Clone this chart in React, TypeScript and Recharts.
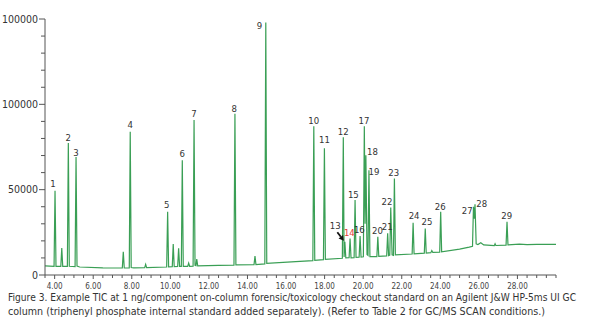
import React from 'react';
import { ComposedChart, Line, Scatter, XAxis, YAxis } from 'recharts';

// TIC trace: [retention time (min), abundance]
const TRACE: [number, number][] = [
  [3.5, 5300],
  [3.97, 5000], [4.02, 49300], [4.07, 5000],
  [4.32, 5000], [4.37, 15800], [4.42, 5000],
  [4.66, 5000], [4.71, 77400], [4.76, 5100],
  [5.06, 4900], [5.11, 69200], [5.16, 5200], [5.3, 4700],
  [6.5, 4200],
  [7.51, 4100], [7.56, 13600], [7.61, 4100],
  [7.87, 4200], [7.92, 84000], [7.97, 4400], [8.1, 4200],
  [8.67, 4300], [8.72, 6200], [8.77, 4300],
  [9.81, 4700], [9.86, 37000], [9.91, 4800],
  [10.1, 4900], [10.15, 18100], [10.2, 4900],
  [10.38, 5000], [10.43, 15600], [10.48, 5000],
  [10.57, 5000], [10.62, 67300], [10.67, 5100],
  [10.9, 5100], [10.95, 7000], [11.0, 5100],
  [11.18, 5200], [11.23, 90800], [11.28, 5600],
  [11.33, 5400], [11.37, 9400], [11.42, 5300],
  [12.5, 5600],
  [13.3, 5700], [13.35, 94500], [13.4, 5900],
  [14.34, 6100], [14.39, 11100], [14.44, 6100],
  [14.9, 6500], [14.95, 148000], [15.0, 6800],
  [16.5, 7800],
  [17.39, 8400], [17.44, 87100], [17.49, 8600],
  [17.94, 9000], [17.99, 74300], [18.04, 9200],
  [18.92, 9800], [18.97, 80700], [19.01, 10500], [19.05, 19500], [19.1, 10000],
  [19.27, 10100], [19.32, 21400], [19.37, 10100],
  [19.53, 10200], [19.58, 43900], [19.63, 10300],
  [19.79, 10400], [19.84, 22800], [19.89, 10500],
  [20.01, 10700], [20.06, 87100], [20.1, 30000], [20.14, 70200], [20.2, 12000],
  [20.25, 11500], [20.3, 61400], [20.35, 10800],
  [20.71, 10800], [20.76, 22400], [20.81, 10900],
  [21.22, 11200], [21.27, 24400], [21.32, 11300],
  [21.38, 11600], [21.43, 39600], [21.5, 11800],
  [21.57, 11500], [21.62, 56500], [21.67, 11800],
  [22.54, 12300], [22.59, 30600], [22.64, 12400],
  [23.17, 12800], [23.22, 27300], [23.27, 12900],
  [23.51, 13100], [23.56, 14300], [23.61, 13200],
  [23.97, 13400], [24.02, 37000], [24.07, 13600],
  [25.0, 15200], [25.5, 16300],
  [25.67, 16800], [25.72, 40000], [25.76, 33000], [25.8, 41500], [25.86, 18200],
  [25.95, 17800], [26.1, 18900], [26.25, 17600],
  [26.8, 17200], [26.84, 18300], [26.88, 17300],
  [27.41, 17500], [27.46, 31200], [27.51, 17600],
  [28.1, 18100], [28.5, 17800], [29.0, 18000], [29.5, 17900], [30.0, 17900],
];

const PEAK_NUMBERS = [
  '1', '2', '3', '4', '5', '6', '7', '8', '9', '10', '11', '12', '13', '14', '15',
  '16', '17', '18', '19', '20', '21', '22', '23', '24', '25', '26', '27', '28', '29',
];
const PEAK_TIMES = [
  4.02, 4.71, 5.11, 7.92, 9.86, 10.62, 11.23, 13.35, 14.95, 17.44, 17.99, 18.97, 19.05, 19.32, 19.58,
  19.84, 20.06, 20.14, 20.3, 20.76, 21.27, 21.43, 21.62, 22.59, 23.22, 24.02, 25.72, 25.8, 27.46,
];

const X_LABELS = ['4.00', '6.00', '8.00', '10.00', '12.00', '14.00', '16.00', '18.00', '20.00', '22.00', '24.00', '26.00', '28.00'];
const Y_MAJOR = [0, 50000, 100000, 150000];
const Y_MAJOR_LABELS = ['0', '50000', '100000', '100000'];

const CAPTION = [
  'Figure 3. Example TIC at 1 ng/component on-column forensic/toxicology checkout standard on an Agilent J&W HP-5ms UI GC',
  'column (triphenyl phosphate internal standard added separately). (Refer to Table 2 for GC/MS SCAN conditions.)',
];
const CAPTION_WIDTHS = [568, 537];

// label placement relative to each peak apex (layout only)
const LABEL_OFFSETS: [number, number][] = [
  [-2, -7], [0, -5.5], [0, -4.5], [0, -6.7], [-1, -7.7], [0, -6.7], [0, -6.6], [-0.7, -5.6], [-6.4, 3.3],
  [0, -6], [0, -8.3], [0, -5.3], [-9.7, -15.7], [-0.7, -6.3], [-1.7, -5], [-0.7, -6.7], [-0.3, -6],
  [6.6, -3.3], [5, 1.7], [-0.4, -6], [-0.4, -7], [-3.7, -6.3], [-0.6, -5.6], [1, -7], [1.7, -7.3],
  [-0.4, -5], [-6.3, 4], [6.7, -1], [-0.3, -5.7],
];

const FONT = "'DejaVu Sans Condensed', 'Liberation Sans Narrow', sans-serif";
const GREEN = '#3a9f55';
const AXIS = '#555';

const traceData = TRACE.map(([t, v]) => ({ t, v }));
const peakData = PEAK_NUMBERS.map((label, i) => {
  const hit = TRACE.find(([t]) => t === PEAK_TIMES[i]);
  return { t: PEAK_TIMES[i], v: hit ? hit[1] : 0, label, idx: i };
});

const xTicks: number[] = [];
for (let t = 3.5; t <= 30.001; t += 0.5) xTicks.push(Math.round(t * 10) / 10);
const yTicks: number[] = [];
for (let v = 0; v <= 150000; v += 10000) yTicks.push(v);

const XTick = (props: any) => {
  const { x, y, payload } = props;
  const v = payload.value as number;
  const label = X_LABELS.find((l) => Number(l) === v);
  return (
    <g>
      <line x1={x} x2={x} y1={y} y2={y + (label ? 4 : 3)} stroke={AXIS} strokeWidth={1} />
      {label && (
        <text x={x} y={y + 13.5} textAnchor="middle" fontSize={8} fill="#444" fontFamily={FONT}>
          {label}
        </text>
      )}
    </g>
  );
};

const YTick = (props: any) => {
  const { x, y, payload } = props;
  const v = payload.value as number;
  const i = Y_MAJOR.indexOf(v);
  return (
    <g>
      <line x1={x} x2={x - (i >= 0 ? 6 : 4)} y1={y} y2={y} stroke={AXIS} strokeWidth={1} />
      {i >= 0 && (
        <text x={x - 7} y={y + 3.6} textAnchor="end" fontSize={10.5} fill="#333" fontFamily={FONT}>
          {Y_MAJOR_LABELS[i]}
        </text>
      )}
    </g>
  );
};

const PeakLabel = (props: any) => {
  const { cx, cy, payload } = props;
  if (cx == null || cy == null) return null;
  const [dx, dy] = LABEL_OFFSETS[payload.idx];
  const isRed = payload.label === '14';
  const withArrow = payload.label === '13';
  let arrow = null;
  if (withArrow) {
    const sx = cx - 7.5, sy = cy - 9.5, ex = cx - 1, ey = cy - 1;
    const len = Math.hypot(ex - sx, ey - sy);
    const ux = (ex - sx) / len, uy = (ey - sy) / len;
    const bx = ex - ux * 5, by = ey - uy * 5;
    const pts = `${ex},${ey} ${bx - uy * 2.8},${by + ux * 2.8} ${bx + uy * 2.8},${by - ux * 2.8}`;
    arrow = (
      <g>
        <line x1={sx} y1={sy} x2={bx} y2={by} stroke="#111" strokeWidth={1.8} />
        <polygon points={pts} fill="#111" />
      </g>
    );
  }
  return (
    <g>
      {arrow}
      <text
        x={cx + dx}
        y={cy + dy + 3.4}
        textAnchor="middle"
        fontSize={9.5}
        fill={isRed ? '#e2403a' : '#333'}
        fontFamily={FONT}
      >
        {payload.label}
      </text>
    </g>
  );
};

export default function App() {
  return (
    <div style={{ position: 'absolute', left: 0, top: 0, width: 590, height: 334, background: '#fff', overflow: 'hidden' }}>
      <ComposedChart width={590} height={300} data={traceData} margin={{ top: 19, right: 34, left: 0, bottom: 0 }}>
        <XAxis
          dataKey="t"
          type="number"
          domain={[3.5, 30]}
          ticks={xTicks}
          interval={0}
          tick={<XTick />}
          tickSize={0}
          tickMargin={0}
          tickLine={false}
          axisLine={{ stroke: AXIS }}
          height={25}
          allowDataOverflow
        />
        <YAxis
          type="number"
          domain={[0, 150000]}
          ticks={yTicks}
          interval={0}
          tick={<YTick />}
          tickSize={0}
          tickMargin={0}
          tickLine={false}
          axisLine={{ stroke: AXIS }}
          width={45}
          allowDataOverflow
        />
        <Line
          type="linear"
          dataKey="v"
          stroke={GREEN}
          strokeWidth={1.2}
          dot={false}
          activeDot={false}
          isAnimationActive={false}
        />
        <Scatter data={peakData} dataKey="v" shape={<PeakLabel />} isAnimationActive={false} />
      </ComposedChart>
      <svg width={590} height={36} style={{ position: 'absolute', left: 0, top: 289 }}>
        {CAPTION.map((line, i) => (
          <text
            key={line}
            x={8}
            y={11.5 + i * 14}
            fontSize={10.2}
            fill="#333"
            fontFamily={FONT}
            textLength={CAPTION_WIDTHS[i]}
            lengthAdjust="spacingAndGlyphs"
          >
            {line}
          </text>
        ))}
      </svg>
    </div>
  );
}
